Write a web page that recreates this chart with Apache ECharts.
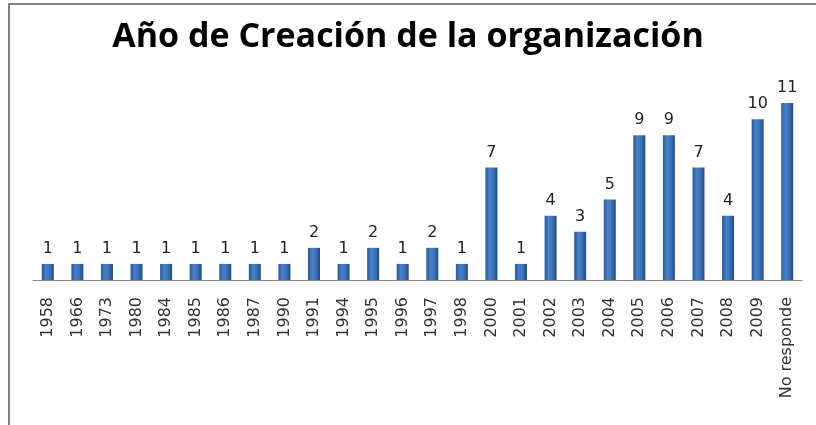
<!DOCTYPE html>
<html>
<head>
<meta charset="utf-8">
<script src="https://cdn.jsdelivr.net/npm/echarts@6/dist/echarts.min.js"></script>
<style>
  html, body { margin: 0; padding: 0; background: #fff; }
  #main { width: 816px; height: 425px; }
</style>
</head>
<body>
<div id="main"></div>
<script>
const years = ['1958', '1966', '1973', '1980', '1984', '1985', '1986', '1987', '1990', '1991',
  '1994', '1995', '1996', '1997', '1998', '2000', '2001', '2002', '2003', '2004',
  '2005', '2006', '2007', '2008', '2009', 'No responde']
const counts = [1, 1, 1, 1, 1, 1, 1, 1, 1, 2,
  1, 2, 1, 2, 1, 7, 1, 4, 3, 5,
  9, 9, 7, 4, 10, 11]

const chart = echarts.init(document.getElementById('main'))

chart.setOption({
  animation: false,
  title: {
    text: 'Año de Creación de la organización',
    left: 'center',
    top: 15,
    textStyle: {
      fontFamily: 'Open Sans',
      fontWeight: 'bold',
      fontSize: 34,
      color: '#000'
    }
  },
  graphic: [{
    // the cropped frame of the original chart
    type: 'polyline',
    shape: { points: [[9, 425], [9, 4], [816, 4]] },
    style: { stroke: '#808080', lineWidth: 2, fill: null }
  }],
  grid: {
    left: 33,
    right: 14,
    top: 87,
    bottom: 145
  },
  xAxis: {
    type: 'category',
    data: years,
    axisLine: { lineStyle: { color: '#868686', width: 1 } },
    axisTick: { show: false },
    axisLabel: {
      rotate: 90,
      margin: 17,
      interval: 0,
      fontFamily: 'DejaVu Sans',
      fontSize: 16,
      color: '#333'
    }
  },
  yAxis: {
    type: 'value',
    min: 0,
    max: 12,
    show: false,
    splitLine: { show: false }
  },
  series: [{
    type: 'bar',
    data: counts,
    barWidth: 12,
    itemStyle: {
      color: new echarts.graphic.LinearGradient(0, 0, 1, 0, [
        { offset: 0, color: '#2a5899' },
        { offset: 0.35, color: '#4a80c6' },
        { offset: 0.65, color: '#3e72b6' },
        { offset: 1, color: '#1f4a86' }
      ])
    },
    label: {
      show: true,
      position: 'top',
      distance: 7,
      fontFamily: 'DejaVu Sans',
      fontSize: 16,
      color: '#222'
    }
  }]
})
</script>
</body>
</html>
